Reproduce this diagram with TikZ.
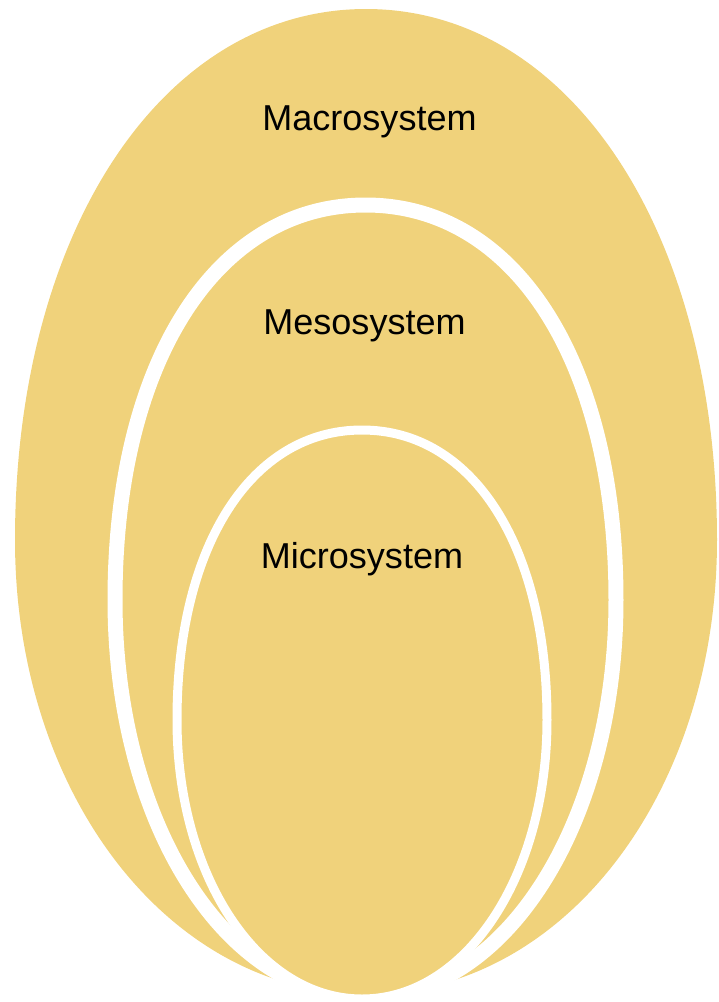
\documentclass[tikz,border=0pt]{standalone}
\usepackage{fontspec}
\setmainfont{Liberation Sans}
\usepackage{tikz}

\definecolor{eggyellow}{RGB}{240,210,123}

% egg outline: centre x, top, widest y, bottom, half width, top roundness
\newcommand{\egg}[6]{({#1-#5},{#3})
  .. controls ({#1-#5},{#3-#6*(#3-#2)}) and ({#1-#6*#5},{#2}) .. ({#1},{#2})
  .. controls ({#1+#6*#5},{#2}) and ({#1+#5},{#3-#6*(#3-#2)}) .. ({#1+#5},{#3})
  .. controls ({#1+#5},{#3+0.56*(#4-#3)}) and ({#1+0.56*#5},{#4}) .. ({#1},{#4})
  .. controls ({#1-0.56*#5},{#4}) and ({#1-#5},{#3+0.56*(#4-#3)}) .. cycle}

\begin{document}
\begin{tikzpicture}[x=0.02cm,y=-0.02cm,
  system/.style={fill=eggyellow},
  ring/.style={system,draw=white,line width=#1},
  level/.style={font=\fontsize{20.5}{24}\selectfont,anchor=base,inner sep=0pt}]
  \useasboundingbox (0,0) rectangle (718,1002);

  \fill[system] \egg{366}{9}{540}{994}{351}{0.58};
  \filldraw[ring=0.3cm] \egg{365.5}{205}{600}{997}{250.5}{0.6};
  \filldraw[ring=0.18cm] \egg{362}{430}{720}{999}{185}{0.6};

  \node[level] (macro) at (369.5,130) {Macrosystem};
  \node[level] (meso) at (364.5,334) {Mesosystem};
  \node[level] (micro) at (362,568) {Microsystem};
\end{tikzpicture}
\end{document}
